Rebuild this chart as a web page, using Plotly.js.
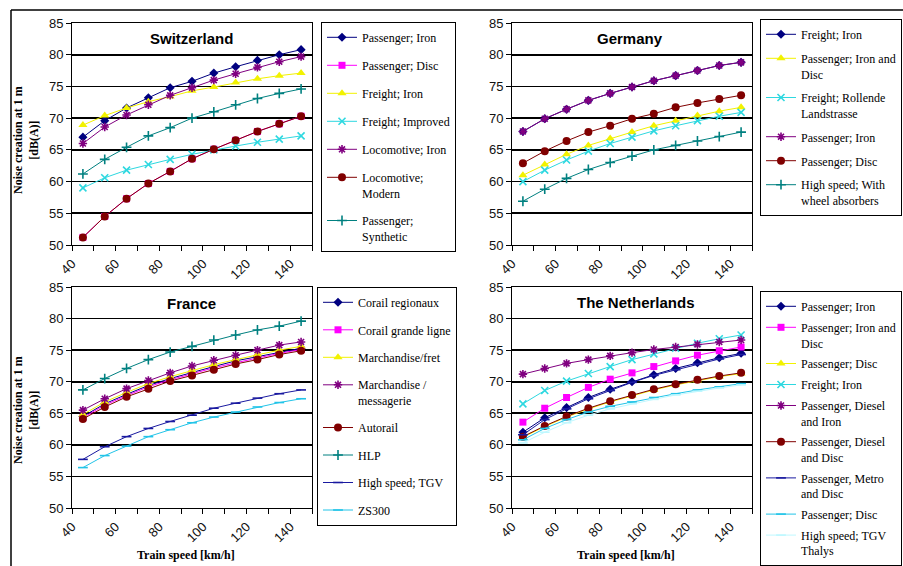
<!DOCTYPE html>
<html><head><meta charset="utf-8">
<script src="https://cdn.plot.ly/plotly-3.0.1.min.js"></script>
<style>html,body{margin:0;padding:0;background:#fff}#chart{width:903px;height:566px}</style>
</head><body><div id="chart"></div>
<script>
// ---- data ----
const speeds = [45, 55, 65, 75, 85, 95, 105, 115, 125, 135, 145];
const xTickVals = [40, 60, 80, 100, 120, 140];

// Switzerland
const ch_passIron        = [67.0, 69.6, 71.6, 73.2, 74.8, 75.8, 77.1, 78.1, 79.1, 80.0, 80.8];
const ch_passDisc        = [51.2, 54.5, 57.3, 59.7, 61.6, 63.6, 65.1, 66.5, 67.9, 69.1, 70.3];
const ch_freightIron     = [68.9, 70.4, 71.6, 72.6, 73.4, 74.3, 74.9, 75.6, 76.2, 76.7, 77.1];
const ch_freightImproved = [59.0, 60.6, 61.8, 62.7, 63.5, 64.3, 65.0, 65.6, 66.2, 66.7, 67.2];
const ch_locoIron        = [66.0, 68.6, 70.5, 72.1, 73.6, 74.8, 76.0, 77.0, 78.0, 78.9, 79.7];
const ch_locoModern      = [51.2, 54.5, 57.3, 59.7, 61.6, 63.6, 65.1, 66.5, 67.9, 69.1, 70.3];
const ch_passSynthetic   = [61.2, 63.5, 65.4, 67.2, 68.5, 70.0, 71.0, 72.1, 73.1, 73.9, 74.6];

// Germany
const de_freightIron  = [67.9, 69.9, 71.4, 72.8, 73.9, 74.9, 75.9, 76.7, 77.5, 78.3, 78.8];
const de_passIronDisc = [61.0, 62.7, 64.3, 65.7, 66.8, 67.8, 68.8, 69.6, 70.4, 71.1, 71.7];
const de_rollende     = [60.0, 61.8, 63.4, 64.8, 66.0, 67.0, 68.0, 68.8, 69.6, 70.3, 70.9];
const de_passIron     = [67.9, 69.9, 71.4, 72.8, 73.9, 74.9, 75.9, 76.7, 77.5, 78.3, 78.8];
const de_passDisc     = [62.9, 64.8, 66.4, 67.8, 68.8, 69.9, 70.7, 71.7, 72.4, 73.0, 73.6];
const de_highSpeed    = [56.9, 58.8, 60.5, 61.9, 63.0, 64.0, 65.0, 65.7, 66.4, 67.1, 67.8];

// France
const fr_corailReg  = [64.5, 66.5, 68.0, 69.4, 70.5, 71.5, 72.4, 73.3, 74.0, 74.7, 75.3];
const fr_corailGL   = [64.3, 66.3, 67.8, 69.2, 70.3, 71.3, 72.2, 73.0, 73.8, 74.5, 75.1];
const fr_fret       = [64.8, 66.8, 68.3, 69.7, 70.8, 71.8, 72.7, 73.5, 74.3, 75.0, 75.6];
const fr_messagerie = [65.5, 67.3, 68.9, 70.2, 71.4, 72.5, 73.4, 74.2, 75.0, 75.8, 76.3];
const fr_autorail   = [64.1, 66.0, 67.6, 68.9, 70.1, 71.0, 71.9, 72.8, 73.5, 74.3, 74.9];
const fr_hlp        = [68.7, 70.5, 72.1, 73.5, 74.7, 75.6, 76.6, 77.4, 78.2, 78.8, 79.6];
const fr_tgv        = [57.7, 59.7, 61.3, 62.6, 63.7, 64.7, 65.8, 66.6, 67.4, 68.1, 68.7];
const fr_zs300      = [56.4, 58.3, 59.8, 61.3, 62.4, 63.5, 64.4, 65.2, 66.0, 66.7, 67.3];

// The Netherlands
const nl_passIron     = [62.0, 64.3, 65.9, 67.5, 68.8, 70.0, 71.1, 72.1, 73.0, 73.8, 74.5];
const nl_passIronDisc = [63.6, 65.8, 67.5, 69.1, 70.4, 71.4, 72.4, 73.3, 74.2, 74.9, 75.5];
const nl_passDisc     = [61.2, 62.9, 64.4, 65.7, 66.8, 67.8, 68.7, 69.5, 70.2, 70.8, 71.3];
const nl_freightIron  = [66.5, 68.6, 70.1, 71.3, 72.4, 73.5, 74.4, 75.3, 76.1, 76.8, 77.4];
const nl_dieselIron   = [71.2, 72.1, 72.9, 73.5, 74.1, 74.6, 75.1, 75.5, 75.9, 76.3, 76.6];
const nl_dieselDisc   = [61.3, 63.0, 64.5, 65.8, 66.9, 67.9, 68.8, 69.6, 70.3, 70.9, 71.4];
const nl_metroDisc    = [61.6, 64.0, 65.7, 67.3, 68.6, 69.9, 71.0, 71.9, 72.8, 73.6, 74.3];
const nl_passDisc2    = [60.8, 62.6, 64.0, 65.2, 66.1, 66.8, 67.5, 68.1, 68.7, 69.2, 69.7];
const nl_thalys       = [60.3, 62.0, 63.5, 64.7, 65.7, 66.5, 67.2, 67.9, 68.5, 69.0, 69.5];

// ---- styles ----
const W = 903, H = 566;
const px = v => v / W, py = v => 1 - v / H;
const ST = {
  navy:    {color: '#000080', symbol: 'diamond', size: 7},
  magenta: {color: '#FF00FF', symbol: 'square', size: 7},
  yellow:  {color: '#F2F200', symbol: 'triangle-up', size: 8},
  cyan:    {color: '#2ED8E0', symbol: 'x-thin-open', size: 7, open: true},
  purple:  {color: '#800080', symbol: 'asterisk-open', size: 7, open: true},
  darkred: {color: '#800000', symbol: 'circle', size: 8},
  teal:    {color: '#008080', symbol: 'cross-thin-open', size: 7, open: true},
  blue:    {color: '#1A1AA0', symbol: 'line-ew-open', size: 7, open: true},
  sky:     {color: '#22C4E8', symbol: 'line-ew-open', size: 7, open: true},
  light:   {color: '#BFF8FF', symbol: 'line-ew-open', size: 7, open: true}
};
let gid = 0;
function tr(name, y, st, ax, leg) {
  const s = ST[st];
  gid++;
  return {
    type: 'scatter', mode: 'lines+markers', name: name, x: speeds, y: y,
    xaxis: ax[0], yaxis: ax[1], legend: leg, legendgroup: 'g' + gid,
    line: {color: s.color, width: 1},
    marker: {symbol: s.symbol, size: s.size, color: s.color,
             line: {color: s.color, width: s.open ? 1.6 : 0}}
  };
}
const A1 = ['x', 'y'], A2 = ['x2', 'y2'], A3 = ['x3', 'y3'], A4 = ['x4', 'y4'];
const traces = [
  tr('Passenger; Iron', ch_passIron, 'navy', A1, 'legend'),
  tr('Passenger; Disc', ch_passDisc, 'magenta', A1, 'legend'),
  tr('Freight; Iron', ch_freightIron, 'yellow', A1, 'legend'),
  tr('Freight; Improved', ch_freightImproved, 'cyan', A1, 'legend'),
  tr('Locomotive; Iron', ch_locoIron, 'purple', A1, 'legend'),
  tr('Locomotive;<br>Modern', ch_locoModern, 'darkred', A1, 'legend'),
  tr('Passenger;<br>Synthetic', ch_passSynthetic, 'teal', A1, 'legend'),

  tr('Freight; Iron', de_freightIron, 'navy', A2, 'legend2'),
  tr('Passenger; Iron and<br>Disc', de_passIronDisc, 'yellow', A2, 'legend2'),
  tr('Freight; Rollende<br>Landstrasse', de_rollende, 'cyan', A2, 'legend2'),
  tr('Passenger; Iron', de_passIron, 'purple', A2, 'legend2'),
  tr('Passenger; Disc', de_passDisc, 'darkred', A2, 'legend2'),
  tr('High speed; With<br>wheel absorbers', de_highSpeed, 'teal', A2, 'legend2'),

  tr('Corail regionaux', fr_corailReg, 'navy', A3, 'legend3'),
  tr('Corail grande ligne', fr_corailGL, 'magenta', A3, 'legend3'),
  tr('Marchandise/fret', fr_fret, 'yellow', A3, 'legend3'),
  tr('Marchandise /<br>messagerie', fr_messagerie, 'purple', A3, 'legend3'),
  tr('Autorail', fr_autorail, 'darkred', A3, 'legend3'),
  tr('HLP', fr_hlp, 'teal', A3, 'legend3'),
  tr('High speed; TGV', fr_tgv, 'blue', A3, 'legend3'),
  tr('ZS300', fr_zs300, 'sky', A3, 'legend3'),

  tr('Passenger; Iron', nl_passIron, 'navy', A4, 'legend4'),
  tr('Passenger; Iron and<br>Disc', nl_passIronDisc, 'magenta', A4, 'legend4'),
  tr('Passenger; Disc', nl_passDisc, 'yellow', A4, 'legend4'),
  tr('Freight; Iron', nl_freightIron, 'cyan', A4, 'legend4'),
  tr('Passenger, Diesel<br>and Iron', nl_dieselIron, 'purple', A4, 'legend4'),
  tr('Passenger, Diesel<br>and Disc', nl_dieselDisc, 'darkred', A4, 'legend4'),
  tr('Passenger, Metro<br>and Disc', nl_metroDisc, 'blue', A4, 'legend4'),
  tr('Passenger; Disc', nl_passDisc2, 'sky', A4, 'legend4'),
  tr('High speed; TGV<br>Thalys', nl_thalys, 'light', A4, 'legend4')
];

const tickFont = {family: 'Liberation Sans, Arial, sans-serif', size: 13, color: '#111'};
function xax(d, anchor) {
  return {domain: d, anchor: anchor, range: [40, 150], tickvals: xTickVals,
    tickangle: -45, ticks: 'outside', ticklen: 5, tickcolor: '#000',
    minor: {tickvals: [50, 70, 90, 110, 130, 150], ticks: 'outside', ticklen: 5, tickcolor: '#000', showgrid: false},
    showgrid: false, zeroline: false, showline: true, linecolor: '#000', linewidth: 1,
    mirror: true, tickfont: tickFont, fixedrange: true};
}
function yax(d, anchor) {
  return {domain: d, anchor: anchor, range: [50, 85], dtick: 5, ticks: 'outside', ticklen: 5,
    tickcolor: '#000', showgrid: true, gridcolor: '#000', gridwidth: 1.7, zeroline: false,
    showline: true, linecolor: '#000', linewidth: 1, mirror: true, tickfont: tickFont, fixedrange: true};
}
const topY = [py(245), py(23)], botY = [py(508), py(287)];
const leftX = [px(72), px(312)], rightX = [px(512), px(752)];

function legend(x, y, gap) {
  return {x: px(x), y: py(y), xanchor: 'left', yanchor: 'top', xref: 'paper', yref: 'paper',
    bgcolor: '#fff', bordercolor: '#000', borderwidth: 1, traceorder: 'grouped', tracegroupgap: gap,
    valign: 'top',
    font: {family: 'Liberation Serif, Times New Roman, serif', size: 12, color: '#000'},
    itemwidth: 30};
}
const titleFont = {family: 'Liberation Sans, Arial, sans-serif', size: 15, color: '#000', weight: 'bold'};
const axTitleFont = {family: 'Liberation Serif, Times New Roman, serif', size: 12, color: '#000', weight: 'bold'};
function ann(text, x, y, font, extra) {
  return Object.assign({text: text, x: px(x), y: py(y), xref: 'paper', yref: 'paper',
    showarrow: false, font: font, xanchor: 'center', yanchor: 'middle'}, extra || {});
}

const layout = {
  width: W, height: H, margin: {l: 0, r: 0, t: 0, b: 0, autoexpand: false},
  paper_bgcolor: '#fff', plot_bgcolor: '#fff', showlegend: true,
  xaxis: xax(leftX, 'y'), yaxis: yax(topY, 'x'),
  xaxis2: xax(rightX, 'y2'), yaxis2: yax(topY, 'x2'),
  xaxis3: xax(leftX, 'y3'), yaxis3: yax(botY, 'x3'),
  xaxis4: xax(rightX, 'y4'), yaxis4: yax(botY, 'x4'),
  legend: legend(321, 22, 9),
  legend2: legend(760, 19, 5),
  legend3: legend(317, 287, 8.5),
  legend4: legend(760, 291, 2),
  annotations: [
    ann('<b>Switzerland</b>', 191, 38, titleFont),
    ann('<b>Germany</b>', 630, 38, titleFont),
    ann('<b>France</b>', 191, 303, titleFont),
    ann('<b>The Netherlands</b>', 636, 302, titleFont),
    ann('<b>Noise creation at 1 m<br>[dB(A)]</b>', 26, 140, axTitleFont, {textangle: -90}),
    ann('<b>Noise creation at 1 m<br>[dB(A)]</b>', 26, 410, axTitleFont, {textangle: -90}),
    ann('<b>Train speed [km/h]</b>', 186, 555, axTitleFont),
    ann('<b>Train speed [km/h]</b>', 626, 555, axTitleFont)
  ],
  shapes: [
    {type: 'line', xref: 'paper', yref: 'paper', x0: px(11), x1: px(11), y0: py(10), y1: py(570), line: {color: '#000', width: 1.5}},
    {type: 'line', xref: 'paper', yref: 'paper', x0: px(11), x1: px(905), y0: py(10), y1: py(10), line: {color: '#000', width: 1.5}}
  ]
};

Plotly.newPlot('chart', traces, layout, {displayModeBar: false, staticPlot: true});
</script>
</body></html>
